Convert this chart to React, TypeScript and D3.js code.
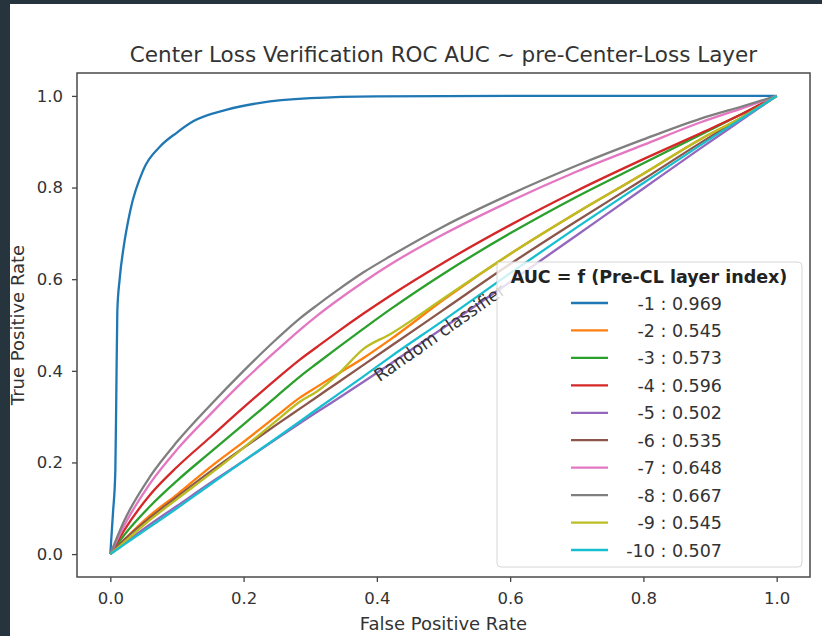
import { useEffect, useRef } from 'react'
import * as d3 from 'd3'

const WIDTH = 822
const HEIGHT = 636

// false positive rate grid shared by layers -2 .. -10
const fprGrid = [0, 0.02, 0.06, 0.1, 0.15, 0.2, 0.25, 0.285, 0.31, 0.34, 0.38, 0.42, 0.5, 0.6, 0.7, 0.8, 0.885, 0.95, 1]

// layer -1 climbs almost vertically, so it gets its own finer grid
const fprLayer1 = [0, 0.004, 0.0075, 0.009, 0.0105, 0.014, 0.02, 0.03, 0.05, 0.075, 0.1, 0.125, 0.175, 0.225, 0.3, 0.4, 0.6, 1]
const tprLayer1 = [0, 0.09, 0.18, 0.35, 0.53, 0.6, 0.67, 0.75, 0.84, 0.89, 0.92, 0.945, 0.97, 0.985, 0.995, 0.999, 1, 1]

const tprLayer2 = [0, 0.03, 0.085, 0.13, 0.19, 0.245, 0.302, 0.342, 0.365, 0.392, 0.428, 0.468, 0.555, 0.655, 0.745, 0.83, 0.905, 0.955, 1]
const tprLayer3 = [0, 0.04, 0.105, 0.16, 0.222, 0.283, 0.345, 0.388, 0.416, 0.449, 0.492, 0.534, 0.612, 0.7, 0.78, 0.853, 0.915, 0.962, 1]
const tprLayer4 = [0, 0.05, 0.13, 0.19, 0.255, 0.32, 0.383, 0.425, 0.452, 0.484, 0.525, 0.564, 0.636, 0.718, 0.793, 0.862, 0.918, 0.962, 1]
const tprLayer5 = [0, 0.022, 0.065, 0.105, 0.155, 0.203, 0.252, 0.286, 0.31, 0.338, 0.376, 0.415, 0.494, 0.594, 0.696, 0.798, 0.885, 0.95, 1]
const tprLayer6 = [0, 0.03, 0.08, 0.125, 0.18, 0.232, 0.283, 0.318, 0.343, 0.373, 0.413, 0.453, 0.533, 0.633, 0.727, 0.818, 0.897, 0.955, 1]
const tprLayer7 = [0, 0.06, 0.155, 0.228, 0.305, 0.378, 0.445, 0.49, 0.52, 0.553, 0.594, 0.632, 0.698, 0.77, 0.835, 0.893, 0.942, 0.974, 1]
const tprLayer8 = [0, 0.07, 0.17, 0.245, 0.325, 0.4, 0.47, 0.515, 0.543, 0.575, 0.615, 0.65, 0.715, 0.785, 0.848, 0.905, 0.95, 0.978, 1]
const tprLayer9 = [0, 0.025, 0.075, 0.12, 0.175, 0.232, 0.292, 0.333, 0.355, 0.39, 0.448, 0.48, 0.558, 0.655, 0.745, 0.83, 0.905, 0.955, 1]
const tprLayer10 = [0, 0.02, 0.06, 0.1, 0.152, 0.203, 0.254, 0.29, 0.316, 0.347, 0.388, 0.43, 0.51, 0.613, 0.713, 0.81, 0.892, 0.953, 1]

const layerIndex = [-1, -2, -3, -4, -5, -6, -7, -8, -9, -10]
const aucValues = [0.969, 0.545, 0.573, 0.596, 0.502, 0.535, 0.648, 0.667, 0.545, 0.507]
const tprSeries = [tprLayer1, tprLayer2, tprLayer3, tprLayer4, tprLayer5, tprLayer6, tprLayer7, tprLayer8, tprLayer9, tprLayer10]
const fprSeries = [fprLayer1, fprGrid, fprGrid, fprGrid, fprGrid, fprGrid, fprGrid, fprGrid, fprGrid, fprGrid]

const tickValues = [0, 0.2, 0.4, 0.6, 0.8, 1.0]

const FONT = 'DejaVu Sans, sans-serif'
const TEXT_COLOR = '#333'

export default function App() {
  const svgRef = useRef<SVGSVGElement>(null)

  useEffect(() => {
    if (!svgRef.current) return
    const root = d3.select(svgRef.current)
    root.selectAll('*').remove()

    // page background + dark frame of the screenshot
    root.append('rect').attr('width', WIDTH).attr('height', HEIGHT).attr('fill', '#fff')
    root.append('rect').attr('width', WIDTH).attr('height', 4).attr('fill', '#25343d')
    root.append('rect').attr('width', 10).attr('height', HEIGHT).attr('fill', '#25343d')

    const left = 77, right = 810, top = 73, bottom = 577

    const x = d3.scaleLinear().domain([-0.05, 1.05]).range([left, right])
    const y = d3.scaleLinear().domain([-0.05, 1.05]).range([bottom, top])

    // curves
    const line = d3.line<[number, number]>()
      .x(d => x(d[0]))
      .y(d => y(d[1]))
      .curve(d3.curveMonotoneX)

    const colors = d3.schemeCategory10

    tprSeries.forEach((tpr, i) => {
      const pts = tpr.map((v, j) => [fprSeries[i][j], v] as [number, number])
      root.append('path')
        .attr('d', line(pts))
        .attr('fill', 'none')
        .attr('stroke', colors[i])
        .attr('stroke-width', 2.3)
        .attr('stroke-linejoin', 'round')
    })

    // annotation along the diagonal
    root.append('text')
      .attr('transform', `translate(${x(0.404)}, ${y(0.375)}) rotate(-35)`)
      .attr('font-family', FONT)
      .attr('font-size', 17.5)
      .attr('fill', TEXT_COLOR)
      .text('Random classifier')

    // axes
    const xAxis = root.append('g')
      .attr('transform', `translate(0, ${bottom})`)
      .call(d3.axisBottom(x).tickValues(tickValues).tickFormat(d3.format('.1f')).tickSize(5).tickPadding(10))
    const yAxis = root.append('g')
      .attr('transform', `translate(${left}, 0)`)
      .call(d3.axisLeft(y).tickValues(tickValues).tickFormat(d3.format('.1f')).tickSize(5).tickPadding(9))

    ;[xAxis, yAxis].forEach(g => {
      g.select('.domain').remove()
      g.selectAll('line').attr('stroke', '#444').attr('stroke-width', 1.3)
      g.selectAll('text')
        .attr('font-family', FONT)
        .attr('font-size', 16.5)
        .attr('fill', TEXT_COLOR)
    })

    // spines
    root.append('rect')
      .attr('x', left).attr('y', top)
      .attr('width', right - left).attr('height', bottom - top)
      .attr('fill', 'none')
      .attr('stroke', '#4a4a4a')
      .attr('stroke-width', 1.5)

    // title and axis labels
    root.append('text')
      .attr('x', (left + right) / 2).attr('y', 62)
      .attr('text-anchor', 'middle')
      .attr('font-family', FONT)
      .attr('font-size', 21.5)
      .attr('fill', TEXT_COLOR)
      .text('Center Loss Verification ROC AUC ~ pre-Center-Loss Layer')

    root.append('text')
      .attr('x', (left + right) / 2).attr('y', 630)
      .attr('text-anchor', 'middle')
      .attr('font-family', FONT)
      .attr('font-size', 18)
      .attr('fill', TEXT_COLOR)
      .text('False Positive Rate')

    root.append('text')
      .attr('transform', `translate(24, ${(top + bottom) / 2}) rotate(-90)`)
      .attr('text-anchor', 'middle')
      .attr('font-family', FONT)
      .attr('font-size', 18)
      .attr('fill', TEXT_COLOR)
      .text('True Positive Rate')

    // legend (lower right)
    const lg = root.append('g')
    lg.append('rect')
      .attr('x', 497).attr('y', 262)
      .attr('width', 305).attr('height', 305)
      .attr('rx', 4)
      .attr('fill', '#fff').attr('fill-opacity', 0.8)
      .attr('stroke', '#d6d6d6')
      .attr('stroke-width', 1)

    lg.append('text')
      .attr('x', 649).attr('y', 283)
      .attr('text-anchor', 'middle')
      .attr('font-family', FONT)
      .attr('font-weight', 'bold')
      .attr('font-size', 17.5)
      .attr('fill', '#222')
      .text('AUC = f (Pre-CL layer index)')

    const rowY = d3.scaleLinear().domain([0, 9]).range([303, 550])
    layerIndex.forEach((idx, i) => {
      lg.append('line')
        .attr('x1', 571).attr('x2', 608)
        .attr('y1', rowY(i)).attr('y2', rowY(i))
        .attr('stroke', colors[i])
        .attr('stroke-width', 2.3)
      lg.append('text')
        .attr('x', 722).attr('y', rowY(i) + 6.5)
        .attr('text-anchor', 'end')
        .attr('font-family', FONT)
        .attr('font-size', 17.5)
        .attr('fill', TEXT_COLOR)
        .text(`${idx} : ${aucValues[i].toFixed(3)}`)
    })
  }, [])

  return (
    <div style={{ position: 'absolute', left: 0, top: 0 }}>
      <svg ref={svgRef} width={WIDTH} height={HEIGHT} style={{ display: 'block' }} />
    </div>
  )
}
